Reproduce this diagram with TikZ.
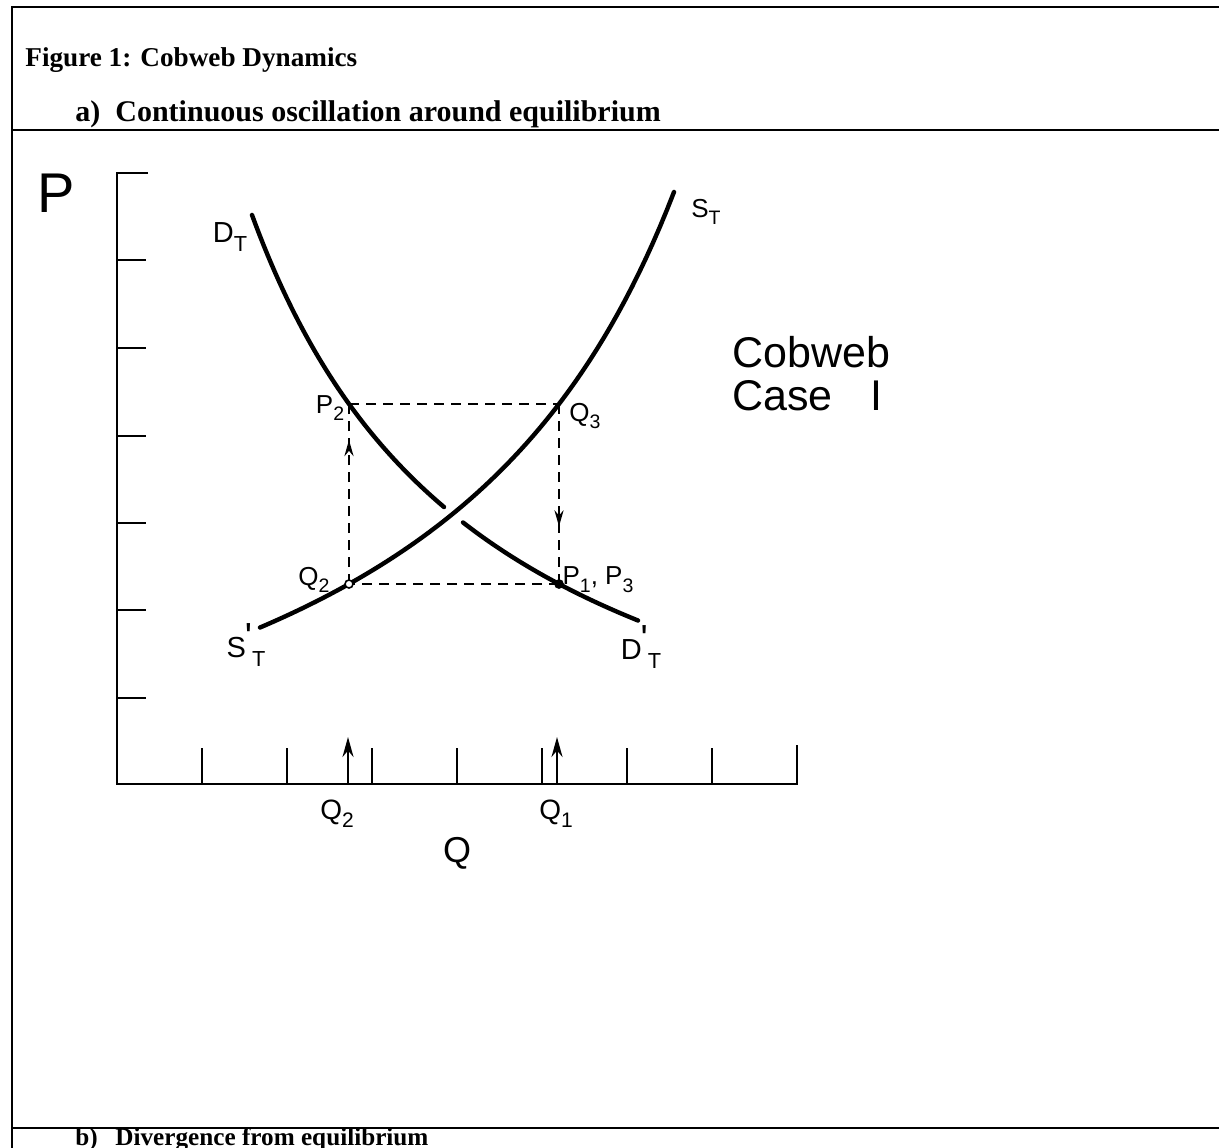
\documentclass[tikz,border=0pt]{standalone}
\usepackage{fontspec}
\usepackage{graphicx}
\setmainfont{Liberation Serif}
\newfontfamily\chartfont{Liberation Sans}
\usetikzlibrary{arrows.meta, decorations.markings, calc}
\tikzset{
  frm/.style = {draw=black, line width=1.2pt},
  hd/.style = {font=\bfseries\fontsize{#1}{#1}\selectfont, anchor=base west,
    inner sep=0pt},
  ax/.style = {draw=black, line width=1.4pt},
  tk/.style = {draw=black, line width=1.1pt},
  crv/.style = {draw=black, line width=2.2pt, line cap=round},
  dsh/.style = {draw=black, line width=1.4pt, dash pattern=on 5pt off 3.5pt},
  lbl/.style = {font=\chartfont\fontsize{13}{15}\selectfont, inner sep=0pt},
  big/.style = {font=\chartfont\fontsize{#1}{#1}\selectfont, inner sep=0pt},
  qar/.style = {-{Stealth[length=10pt, width=5.5pt]}, line width=1.2pt},
  midar/.style = {postaction={decorate}, decoration={markings,
    mark=at position #1 with {\arrow{Stealth[length=8pt, width=4.5pt]}}}},
  dot/.style = {circle, draw=black, fill=white, line width=0.8pt,
    inner sep=0pt, minimum size=4pt}
}
\newcommand{\ix}[1]{\raisebox{-0.3em}{\scalebox{0.75}{#1}}}
\newcommand{\pr}{\kern-0.04em\raisebox{0.3em}{\scalebox{1.3}{\textquotesingle}}}
\newcommand{\dem}{873.8 - 1588.63/((\x-10.87)/100)}
\newcommand{\spl}{924.6 - 2068.98/((956.4-\x)/100)}

\begin{document}
\begin{tikzpicture}[x=0.5pt, y=-0.5pt]
  \useasboundingbox (0,0) rectangle (1219,1147);
  \draw [frm] (1225,7) -- (12,7) -- (12,1150);
  \draw [frm] (12,130) -- (1225,130);
  \draw [frm] (12,1128) -- (1225,1128);
  \node [hd=13.6] (title) at (25,66) {Figure 1: Cobweb Dynamics};
  \node [hd=15] (la) at (75,121) {a)};
  \node [hd=15] (ta) at (115,121) {Continuous oscillation around equilibrium};
  \node [hd=12.6] (lb) at (75,1145) {b)};
  \node [hd=12.6] (tb) at (115,1145) {Divergence from equilibrium};

  \coordinate (o) at (117,784);
  \draw [ax] (148,173) -- (117,173) -- (o) -- (797,784) -- (797,745);
  \foreach \yy in {260,348,436,523,610,698}
    \draw [tk] (117,\yy) -- ++(29,0);
  \foreach \k in {1,...,7}
    \draw [tk] ($(o)+(85*\k,0)$) -- ++(0,-36);
  \coordinate (q2a) at (348,784);
  \coordinate (q2b) at (348,737);
  \coordinate (q1a) at (557,784);
  \coordinate (q1b) at (557,737);
  \draw [qar] (q2a) -- (q2b);
  \draw [qar] (q1a) -- (q1b);

  \coordinate (P2) at (349,404);
  \coordinate (Q3) at (559,404);
  \coordinate (P1) at (559,584);
  \coordinate (Q2) at (349,584);
  \draw [dsh] (P2) -- (Q3);
  \draw [dsh] (P1) -- (Q2);
  \draw [dsh, midar=0.8] (Q2) -- (P2);
  \draw [dsh, midar=0.68] (Q3) -- (P1);

  \draw [crv] plot [domain=260:674, samples=60] (\x, {\spl});
  \draw [crv] plot [domain=252:444, samples=50] (\x, {\dem});
  \draw [crv] plot [domain=463:638, samples=40] (\x, {\dem});
  \node [dot] (q2d) at (Q2) {};
  \node [dot, fill=black] (p1d) at (P1) {};

  \node [big=28] (pax) at (56,193) {P};
  \node [big=18] (qax) at (457,853) {Q};
  \node [big=14] (q2l) at (337,814) {Q\ix{2}};
  \node [big=14] (q1l) at (556,814) {Q\ix{1}};
  \node [big=14.5] (dt) at (230,237) {D\ix{T}};
  \node [big=13] (st) at (706,212) {S\ix{T}};
  \node [lbl] (p2l) at (330,408) {P\ix{2}};
  \node [lbl] (q3l) at (585,416) {Q\ix{3}};
  \node [lbl] (p1l) at (598,580) {P\ix{1}, P\ix{3}};
  \node [lbl] (q2p) at (314,580) {Q\ix{2}};
  \node [big=14.5] (sdt) at (246,645) {S\pr\ix{T}};
  \node [big=14.5] (ddt) at (641,647) {D\pr\ix{T}};
  \node [big=21.5, anchor=north west, align=left] (cw) at (732,336)
    {Cobweb\\Case\hspace{0.6em} I};
\end{tikzpicture}
\end{document}
